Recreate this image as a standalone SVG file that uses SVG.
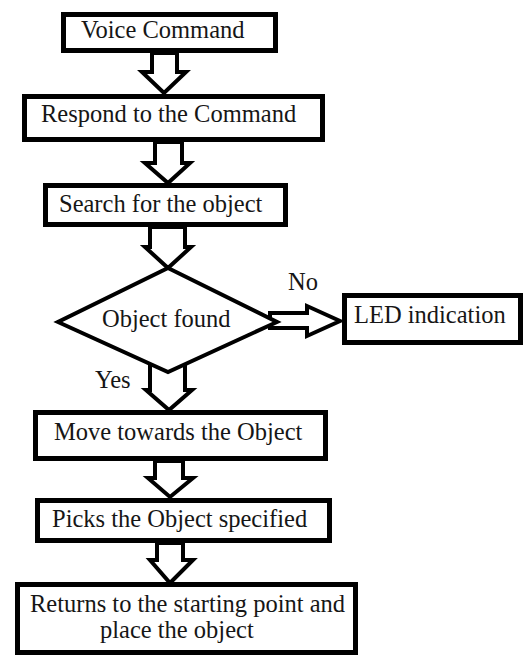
<svg xmlns="http://www.w3.org/2000/svg" width="525" height="657" viewBox="0 0 525 657" font-family="'Liberation Serif', 'Times New Roman', serif" font-size="24.5">
<style>
.box{fill:#fff;stroke:#000;stroke-width:5}
.dia{fill:#fff;stroke:#000;stroke-width:4;stroke-linejoin:miter}
.arr{fill:#fff;stroke:#000;stroke-width:4;stroke-linejoin:miter}
.t{font-family:'Liberation Serif', 'Times New Roman', serif;font-size:24.5px;fill:#161616}
</style>
<rect width="525" height="657" fill="#fff"/>
<g id="connectors">
<polygon class="arr" points="152,53 177,53 177,72 186,72 164,93 142,72 152,72"/>
<polygon class="arr" points="155,142 182,142 182,163 190,163 168,183 145,163 155,163"/>
<polygon class="arr" points="150,227 185,227 185,247 191,247 168,268 145,247 150,247"/>
<polygon class="arr" points="150,360 185,360 185,390 192,390 169,410 146,390 150,390"/>
<polygon class="arr" points="270,313 307,313 307,306 340,321 307,336 307,328 270,328"/>
<polygon class="arr" points="155,461 183,461 183,478 193,478 170,497 148,478 155,478"/>
<polygon class="arr" points="157,543 183,543 183,560 193,560 170,583 150,560 157,560"/>
</g>
<g id="voice"><rect class="box" x="63.5" y="14.5" width="212" height="36"/><text class="t" x="81" y="38">Voice Command</text></g>
<g id="respond"><rect class="box" x="24.5" y="96.5" width="298" height="43"/><text class="t" x="41" y="122">Respond to the Command</text></g>
<g id="search"><rect class="box" x="45.5" y="185.5" width="240" height="39"/><text class="t" x="59" y="212">Search for the object</text></g>
<g id="found"><polygon class="dia" points="168,268 277,322 168,372 58,322"/><text class="t" x="102" y="327">Object found</text></g>
<g id="led"><rect class="box" x="344.5" y="295.5" width="176" height="47"/><text class="t" x="354" y="323">LED indication</text></g>
<g id="labels"><text class="t" x="288" y="290">No</text><text class="t" x="95" y="388">Yes</text></g>
<g id="move"><rect class="box" x="35.5" y="412.5" width="290" height="46"/><text class="t" x="54" y="440">Move towards the Object</text></g>
<g id="picks"><rect class="box" x="37.5" y="500.5" width="292" height="40"/><text class="t" x="52" y="527">Picks the Object specified</text></g>
<g id="returns"><rect class="box" x="17.5" y="584.5" width="338" height="68"/><text class="t" x="30" y="612">Returns to the starting point and</text><text class="t" x="100" y="638">place the object</text></g>
</svg>
